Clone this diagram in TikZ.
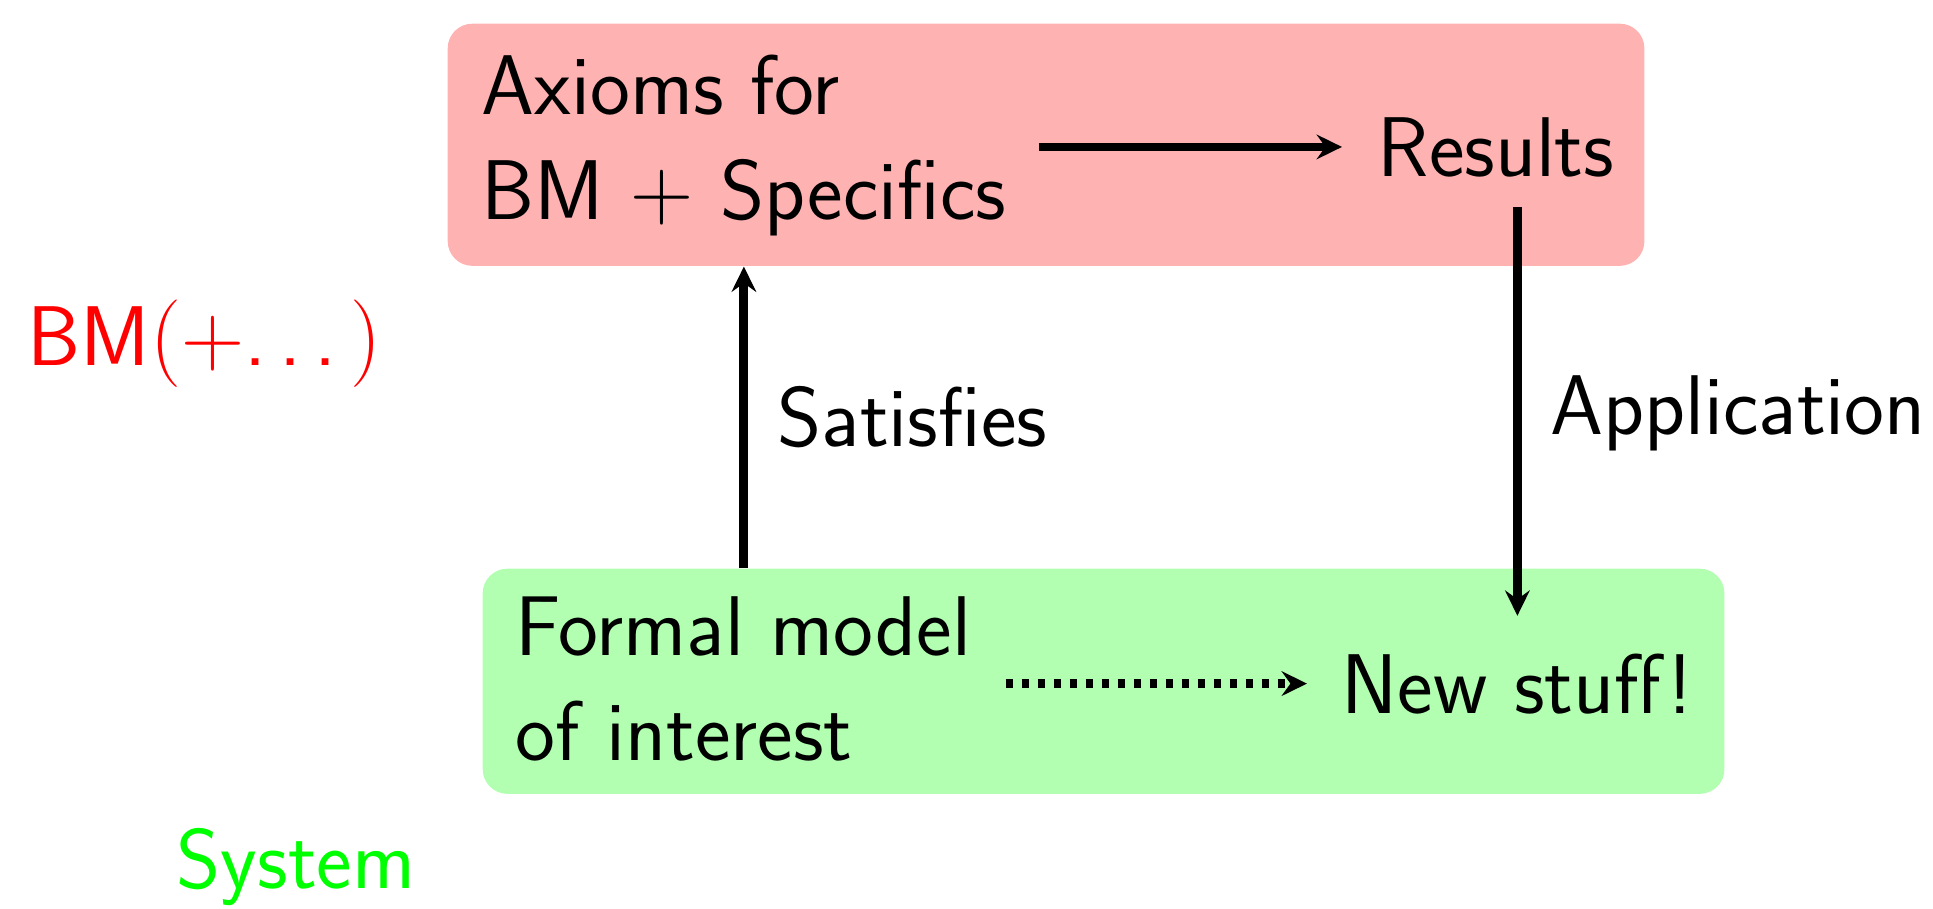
\documentclass[tikz,border=0pt]{standalone}
\usetikzlibrary{arrows.meta}
\newcommand{\spdots}{.\kern\fontdimen3\font.\kern\fontdimen3\font.\kern\fontdimen3\font}
\begin{document}
\begin{tikzpicture}[x=0.01cm,y=-0.01cm,
  txt/.style={inner sep=0pt, font=\fontsize{24.1}{29.9}\selectfont\sffamily, align=left},
  conn/.style={line width=2.5pt, -{Stealth[length=7.2pt,width=7pt,inset=2.5pt]}},
  dotconn/.style={conn, dash pattern=on 2pt off 2.55pt},
  box/.style={rounded corners=7pt, inner sep=0pt, anchor=north west}]
\useasboundingbox (0,0) rectangle (1933,909);
% boxes
\node[box, fill=red!30, minimum width=11.96cm, minimum height=2.42cm] (redbox) at (447,23) {};
\node[box, fill=green!30, minimum width=12.41cm, minimum height=2.25cm] (greenbox) at (482,568) {};
% texts
\node[txt, anchor=north west] (axioms) at (481,54) {Axioms for\\BM $+$ Specifics};
\node[txt, anchor=base west] (results) at (1377,176) {Results};
\node[txt, anchor=north west] (formal) at (515,596) {Formal model\\of interest};
\node[txt, anchor=base west] (newstuff) at (1341,713) {New stuff!};
\node[txt, anchor=base west] (satisfies) at (777,446) {Satisfies};
\node[txt, anchor=base west] (application) at (1550,434) {Application};
\node[txt, anchor=base west, text=red] (bm) at (27,365) {BM$(+$\spdots$)$};
\node[txt, anchor=base west, text=green] (system) at (176,888) {System};
% connectors
\draw[conn, shorten <=0.32cm, shorten >=0.35cm] (axioms.east |- results.center) -- (results.west);
\draw[dotconn, shorten <=0.34cm, shorten >=0.34cm] (formal.east |- newstuff.center) -- (newstuff.west);
\draw[conn] (greenbox.north -| axioms.south) -- (redbox.south -| axioms.south);
\draw[conn, shorten <=0.3cm, shorten >=0.37cm] (results.south -| newstuff.north) -- (newstuff.north);
\end{tikzpicture}
\end{document}
